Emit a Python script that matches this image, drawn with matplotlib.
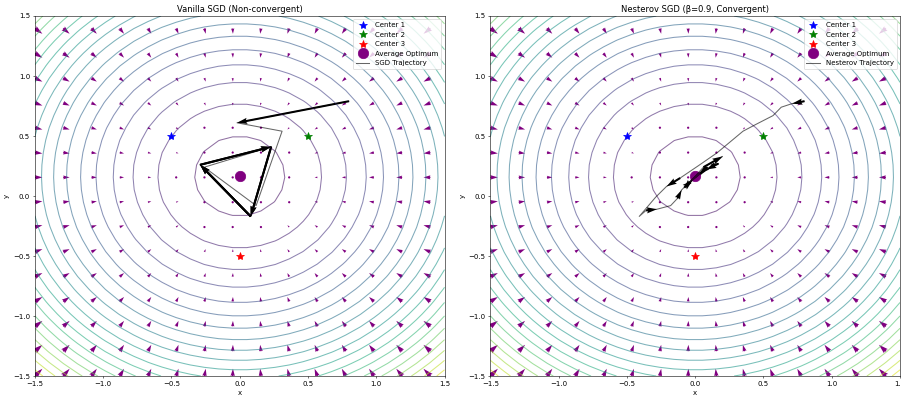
import numpy as np
import matplotlib
matplotlib.use("Agg")
import matplotlib.pyplot as plt

# the three centers and their mean
center_x = [-0.5, 0.5, 0.0]
center_y = [0.5, 0.5, -0.5]
center_colors = ['blue', 'green', 'red']
opt_x = np.mean(center_x)
opt_y = np.mean(center_y)

# vanilla SGD path
sgd_x = [0.80, -0.02, 0.31, 0.12, -0.26, 0.23, 0.08, -0.29, 0.23, 0.08, -0.29, 0.23, 0.08, -0.29]
sgd_y = [0.79, 0.61, 0.54, -0.08, 0.24, 0.41, -0.17, 0.26, 0.41, -0.17, 0.26, 0.41, -0.17, 0.26]
sgd_arrows = [0, 6, 7, 8, 9, 10, 11, 12]

# nesterov path
nag_x = [0.80, 0.71, 0.63, 0.57, 0.45, 0.35, 0.16, 0.02, -0.11, -0.21,
         -0.29, -0.41, -0.36, -0.28, -0.18, -0.13, -0.10, -0.02, 0.06, 0.20,
         0.12, 0.17, 0.08, -0.04, -0.08, -0.02, 0.06, 0.09, 0.03, -0.03,
         -0.01, 0.04, 0.02, -0.01, 0.01, 0.00]
nag_y = [0.79, 0.77, 0.74, 0.67, 0.60, 0.54, 0.36, 0.25, 0.15, 0.08,
         -0.01, -0.17, -0.12, -0.11, -0.08, -0.02, 0.05, 0.14, 0.24, 0.33,
         0.25, 0.27, 0.22, 0.12, 0.07, 0.13, 0.21, 0.24, 0.19, 0.13,
         0.15, 0.19, 0.18, 0.15, 0.17, 0.16]
nag_arrows = [0, 8, 12, 15, 18, 20, 21, 22, 23, 24, 25, 26, 27, 28, 29, 30, 31, 32, 33]

grid = np.linspace(-1.5, 1.5, 30)
X, Y = np.meshgrid(grid, grid)
Z = np.mean([(X - cx)**2 + (Y - cy)**2 for cx, cy in zip(center_x, center_y)], axis=0)
U = -2 * (X - opt_x)
V = -2 * (Y - opt_y)


def panel(ax, title, px, py, steps, label):
    ax.contour(X, Y, Z, levels=20, cmap='viridis', alpha=0.6)
    ax.quiver(X[::2, ::2], Y[::2, ::2], U[::2, ::2], V[::2, ::2], color='purple',
              angles='xy', scale_units='xy', scale=55, width=0.006)
    for i in range(3):
        ax.plot(center_x[i], center_y[i], '*', color=center_colors[i], markersize=12,
                label=f'Center {i+1}')
    ax.plot(opt_x, opt_y, 'o', color='purple', markersize=15, label='Average Optimum')
    px = np.array(px)
    py = np.array(py)
    ax.plot(px, py, '-', color='k', alpha=0.6, lw=1.5, label=label)
    s = np.array(steps)
    ax.quiver(px[s], py[s], px[s + 1] - px[s], py[s + 1] - py[s], color='k',
              angles='xy', scale_units='xy', scale=1, width=0.005)
    ax.set_xlim(-1.5, 1.5)
    ax.set_ylim(-1.5, 1.5)
    ax.set_title(title)
    ax.set_xlabel('x')
    ax.set_ylabel('y')
    ax.legend(loc='upper right')


fig, axes = plt.subplots(1, 2, figsize=(18.02, 7.98), dpi=50)
panel(axes[0], 'Vanilla SGD (Non-convergent)', sgd_x, sgd_y, sgd_arrows, 'SGD Trajectory')
panel(axes[1], 'Nesterov SGD (β=0.9, Convergent)', nag_x, nag_y, nag_arrows, 'Nesterov Trajectory')
fig.subplots_adjust(left=0.0388, right=0.9989, bottom=0.0576, top=0.9599, wspace=0.112)
fig.savefig('out.png', dpi=50)
